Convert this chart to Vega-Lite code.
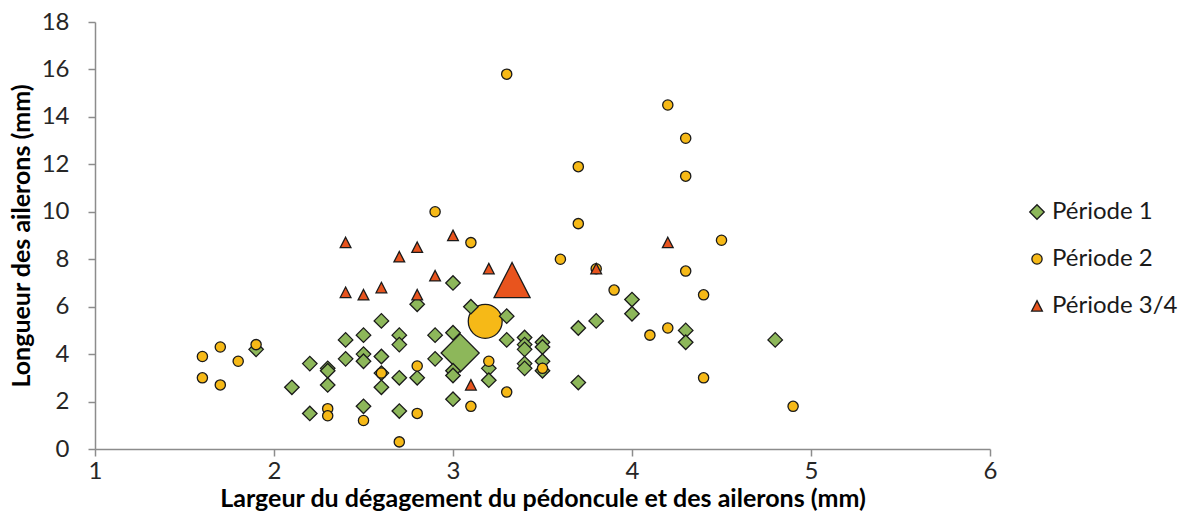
{
  "$schema": "https://vega.github.io/schema/vega-lite/v6.json",
  "width": 895,
  "height": 427,
  "autosize": {"type": "none"},
  "padding": {"left": 95, "top": 22, "right": 194, "bottom": 73},
  "background": "white",
  "config": {"view": {"stroke": null}, "font": "Lato"},
  "datasets": {
    "moyennes": [
      {"x": 3.04, "y": 4.05, "periode": "Période 1"},
      {"x": 3.18, "y": 5.38, "periode": "Période 2"},
      {"x": 3.33, "y": 7.1, "periode": "Période 3/4"}
    ],
    "points": [
      {"x": 1.9, "y": 4.2, "periode": "Période 1"},
      {"x": 2.1, "y": 2.6, "periode": "Période 1"},
      {"x": 2.2, "y": 3.6, "periode": "Période 1"},
      {"x": 2.2, "y": 1.5, "periode": "Période 1"},
      {"x": 2.3, "y": 3.4, "periode": "Période 1"},
      {"x": 2.3, "y": 3.3, "periode": "Période 1"},
      {"x": 2.3, "y": 2.7, "periode": "Période 1"},
      {"x": 2.4, "y": 4.6, "periode": "Période 1"},
      {"x": 2.4, "y": 3.8, "periode": "Période 1"},
      {"x": 2.5, "y": 4.8, "periode": "Période 1"},
      {"x": 2.5, "y": 4.0, "periode": "Période 1"},
      {"x": 2.5, "y": 3.7, "periode": "Période 1"},
      {"x": 2.5, "y": 1.8, "periode": "Période 1"},
      {"x": 2.6, "y": 5.4, "periode": "Période 1"},
      {"x": 2.6, "y": 3.9, "periode": "Période 1"},
      {"x": 2.6, "y": 3.2, "periode": "Période 1"},
      {"x": 2.6, "y": 2.6, "periode": "Période 1"},
      {"x": 2.7, "y": 4.8, "periode": "Période 1"},
      {"x": 2.7, "y": 4.4, "periode": "Période 1"},
      {"x": 2.7, "y": 3.0, "periode": "Période 1"},
      {"x": 2.7, "y": 1.6, "periode": "Période 1"},
      {"x": 2.8, "y": 6.1, "periode": "Période 1"},
      {"x": 2.8, "y": 3.0, "periode": "Période 1"},
      {"x": 2.9, "y": 4.8, "periode": "Période 1"},
      {"x": 2.9, "y": 3.8, "periode": "Période 1"},
      {"x": 3.0, "y": 7.0, "periode": "Période 1"},
      {"x": 3.0, "y": 4.9, "periode": "Période 1"},
      {"x": 3.0, "y": 3.3, "periode": "Période 1"},
      {"x": 3.0, "y": 3.1, "periode": "Période 1"},
      {"x": 3.0, "y": 2.1, "periode": "Période 1"},
      {"x": 3.1, "y": 6.0, "periode": "Période 1"},
      {"x": 3.2, "y": 3.4, "periode": "Période 1"},
      {"x": 3.2, "y": 2.9, "periode": "Période 1"},
      {"x": 3.3, "y": 5.6, "periode": "Période 1"},
      {"x": 3.3, "y": 4.6, "periode": "Période 1"},
      {"x": 3.4, "y": 4.7, "periode": "Période 1"},
      {"x": 3.4, "y": 4.4, "periode": "Période 1"},
      {"x": 3.4, "y": 4.2, "periode": "Période 1"},
      {"x": 3.4, "y": 3.6, "periode": "Période 1"},
      {"x": 3.4, "y": 3.4, "periode": "Période 1"},
      {"x": 3.5, "y": 4.5, "periode": "Période 1"},
      {"x": 3.5, "y": 4.3, "periode": "Période 1"},
      {"x": 3.5, "y": 3.7, "periode": "Période 1"},
      {"x": 3.5, "y": 3.3, "periode": "Période 1"},
      {"x": 3.7, "y": 5.1, "periode": "Période 1"},
      {"x": 3.7, "y": 2.8, "periode": "Période 1"},
      {"x": 3.8, "y": 5.4, "periode": "Période 1"},
      {"x": 4.0, "y": 6.3, "periode": "Période 1"},
      {"x": 4.0, "y": 5.7, "periode": "Période 1"},
      {"x": 4.3, "y": 5.0, "periode": "Période 1"},
      {"x": 4.3, "y": 4.5, "periode": "Période 1"},
      {"x": 4.8, "y": 4.6, "periode": "Période 1"},
      {"x": 1.6, "y": 3.9, "periode": "Période 2"},
      {"x": 1.6, "y": 3.0, "periode": "Période 2"},
      {"x": 1.7, "y": 4.3, "periode": "Période 2"},
      {"x": 1.7, "y": 2.7, "periode": "Période 2"},
      {"x": 1.8, "y": 3.7, "periode": "Période 2"},
      {"x": 1.9, "y": 4.4, "periode": "Période 2"},
      {"x": 2.3, "y": 1.7, "periode": "Période 2"},
      {"x": 2.3, "y": 1.4, "periode": "Période 2"},
      {"x": 2.5, "y": 1.2, "periode": "Période 2"},
      {"x": 2.6, "y": 3.2, "periode": "Période 2"},
      {"x": 2.7, "y": 0.3, "periode": "Période 2"},
      {"x": 2.8, "y": 3.5, "periode": "Période 2"},
      {"x": 2.8, "y": 1.5, "periode": "Période 2"},
      {"x": 2.9, "y": 10.0, "periode": "Période 2"},
      {"x": 3.1, "y": 8.7, "periode": "Période 2"},
      {"x": 3.1, "y": 1.8, "periode": "Période 2"},
      {"x": 3.2, "y": 3.7, "periode": "Période 2"},
      {"x": 3.3, "y": 15.8, "periode": "Période 2"},
      {"x": 3.3, "y": 2.4, "periode": "Période 2"},
      {"x": 3.5, "y": 3.4, "periode": "Période 2"},
      {"x": 3.6, "y": 8.0, "periode": "Période 2"},
      {"x": 3.7, "y": 11.9, "periode": "Période 2"},
      {"x": 3.7, "y": 9.5, "periode": "Période 2"},
      {"x": 3.8, "y": 7.6, "periode": "Période 2"},
      {"x": 3.9, "y": 6.7, "periode": "Période 2"},
      {"x": 4.1, "y": 4.8, "periode": "Période 2"},
      {"x": 4.2, "y": 14.5, "periode": "Période 2"},
      {"x": 4.2, "y": 5.1, "periode": "Période 2"},
      {"x": 4.3, "y": 13.1, "periode": "Période 2"},
      {"x": 4.3, "y": 11.5, "periode": "Période 2"},
      {"x": 4.3, "y": 7.5, "periode": "Période 2"},
      {"x": 4.4, "y": 6.5, "periode": "Période 2"},
      {"x": 4.4, "y": 3.0, "periode": "Période 2"},
      {"x": 4.5, "y": 8.8, "periode": "Période 2"},
      {"x": 4.9, "y": 1.8, "periode": "Période 2"},
      {"x": 2.4, "y": 8.7, "periode": "Période 3/4"},
      {"x": 2.4, "y": 6.6, "periode": "Période 3/4"},
      {"x": 2.5, "y": 6.5, "periode": "Période 3/4"},
      {"x": 2.6, "y": 6.8, "periode": "Période 3/4"},
      {"x": 2.7, "y": 8.1, "periode": "Période 3/4"},
      {"x": 2.8, "y": 8.5, "periode": "Période 3/4"},
      {"x": 2.8, "y": 6.5, "periode": "Période 3/4"},
      {"x": 2.9, "y": 7.3, "periode": "Période 3/4"},
      {"x": 3.0, "y": 9.0, "periode": "Période 3/4"},
      {"x": 3.1, "y": 2.7, "periode": "Période 3/4"},
      {"x": 3.2, "y": 7.6, "periode": "Période 3/4"},
      {"x": 3.8, "y": 7.6, "periode": "Période 3/4"},
      {"x": 4.2, "y": 8.7, "periode": "Période 3/4"}
    ]
  },
  "encoding": {
    "x": {
      "field": "x", "type": "quantitative",
      "scale": {"domain": [1, 6], "nice": false, "zero": false},
      "axis": {
        "title": "Largeur du dégagement du pédoncule et des ailerons (mm)",
        "values": [1, 2, 3, 4, 5, 6], "grid": false,
        "domainColor": "#8c8c8c", "domainWidth": 1.5, "tickColor": "#8c8c8c", "tickWidth": 1.5, "tickSize": 7,
        "labelFontSize": 24, "labelColor": "#262626", "labelPadding": 3, "labelFlush": false,
        "titleFontSize": 25, "titleFontWeight": "bold", "titleColor": "#000000", "titlePadding": 3
      }
    },
    "y": {
      "field": "y", "type": "quantitative",
      "scale": {"domain": [0, 18], "nice": false},
      "axis": {
        "title": "Longueur des ailerons (mm)",
        "values": [0, 2, 4, 6, 8, 10, 12, 14, 16, 18], "grid": false,
        "domainColor": "#8c8c8c", "domainWidth": 1.5, "tickColor": "#8c8c8c", "tickWidth": 1.5, "tickSize": 7,
        "labelFontSize": 24, "labelColor": "#262626", "labelPadding": 19, "labelFlush": false,
        "titleFontSize": 25, "titleFontWeight": "bold", "titleColor": "#000000", "titlePadding": 7
      }
    },
    "color": {
      "field": "periode", "type": "nominal",
      "scale": {"domain": ["Période 1", "Période 2", "Période 3/4"], "range": ["#8db75a", "#f6b917", "#e8541e"]},
      "legend": {
        "title": null, "orient": "none", "legendX": 930, "legendY": 178, "padding": 0,
        "labelFont": "Lato", "labelFontSize": 24, "labelColor": "#1a1a1a", "labelOffset": 3, "rowPadding": 23,
        "symbolStrokeColor": "#1a1a1a", "symbolStrokeWidth": 1.3, "symbolOpacity": 1
      }
    },
    "shape": {
      "field": "periode", "type": "nominal",
      "scale": {"domain": ["Période 1", "Période 2", "Période 3/4"], "range": ["diamond", "circle", "M0,-1L1,0.95L-1,0.95Z"]}
    }
  },
  "layer": [
    {
      "data": {"name": "moyennes"},
      "transform": [{"filter": "datum.periode === 'Période 1'"}],
      "mark": {"type": "point", "filled": true, "opacity": 1, "stroke": "#1a1a1a", "strokeWidth": 1.3, "size": 1450}
    },
    {
      "data": {"name": "moyennes"},
      "transform": [{"filter": "datum.periode === 'Période 2'"}],
      "mark": {"type": "point", "filled": true, "opacity": 1, "stroke": "#1a1a1a", "strokeWidth": 1.3, "size": 1150}
    },
    {
      "data": {"name": "moyennes"},
      "transform": [{"filter": "datum.periode === 'Période 3/4'"}],
      "mark": {"type": "point", "filled": true, "opacity": 1, "stroke": "#1a1a1a", "strokeWidth": 1.3, "size": 1300}
    },
    {
      "data": {"name": "points"},
      "mark": {"type": "point", "filled": true, "opacity": 1, "stroke": "#1a1a1a", "strokeWidth": 1.3},
      "encoding": {
        "size": {"field": "periode", "type": "nominal",
          "scale": {"type": "ordinal", "domain": ["Période 1", "Période 2", "Période 3/4"], "range": [210, 105, 115]}}
      }
    }
  ]
}
